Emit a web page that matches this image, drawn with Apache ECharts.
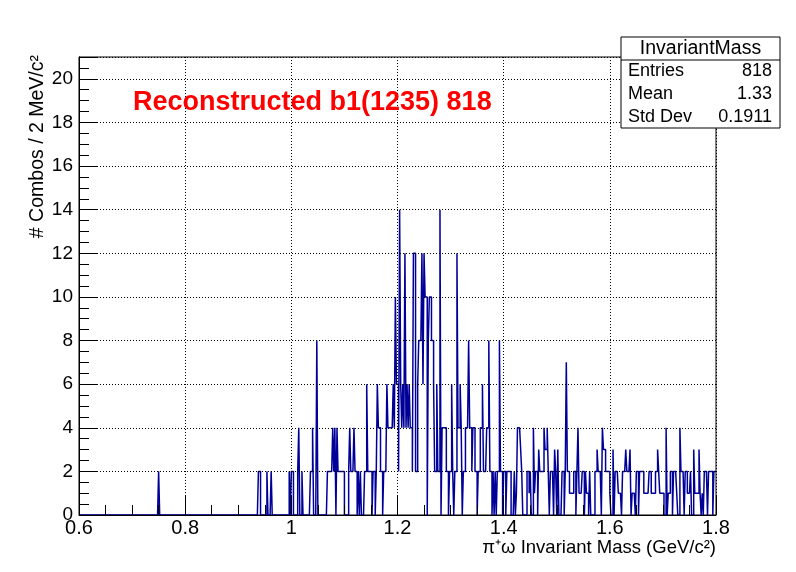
<!DOCTYPE html>
<html lang="en">
<head>
  <meta charset="UTF-8" />
  <script src="https://cdn.jsdelivr.net/npm/echarts@6/dist/echarts.min.js"></script>
  <title>InvariantMass</title>
  <style>
    html, body { margin: 0; padding: 0; background: #fff; }
  </style>
</head>
<body>
  <div id="main" style="width: 796px; height: 572px;"></div>
  <script type="text/javascript">
    // histogram binning: 600 bins of 2 MeV from 0.6 to 1.8 GeV
    var massMin = 0.6;
    var massMax = 1.8;
    var binWidth = 0.002;

    // combos per bin, one row = 50 bins = 0.1 GeV
    var combos = [
      // 0.6 - 0.7
      0,0,0,0,0,0,0,0,0,0, 0,0,0,0,0,0,0,0,0,0, 0,0,0,0,0,0,0,0,0,0, 0,0,0,0,0,0,0,0,0,0, 0,0,0,0,0,0,0,0,0,0,
      // 0.7 - 0.8
      0,0,0,0,0,0,0,0,0,0, 0,0,0,0,0,0,0,0,0,0, 0,0,0,0,0,2,0,0,0,0, 0,0,0,0,0,0,0,0,0,0, 0,0,0,0,0,0,0,0,0,0,
      // 0.8 - 0.9
      0,0,0,0,0,0,0,0,0,0, 0,0,0,0,0,0,0,0,0,0, 0,0,0,0,0,0,0,0,0,0, 0,0,0,0,0,0,0,0,0,0, 0,0,0,0,0,0,0,0,0,0,
      // 0.9 - 1.0
      0,0,0,0,0,0,0,0,0,0, 0,0,0,0,0,0,0,0,0,2, 2,0,0,0,0,0,0,2,0,0, 0,2,0,0,0,0,0,0,0,0, 0,0,0,0,0,0,0,0,2,0,
      // 1.0 - 1.1
      2,2,0,0,0,0,2,4,0,0, 2,0,0,0,0,0,0,0,2,2, 4,0,0,0,8,0,0,0,0,0, 0,0,0,0,2,2,2,2,2,4, 2,4,0,4,2,2,2,2,2,2,
      // 1.1 - 1.2
      0,0,0,0,2,4,2,2,2,4, 2,2,0,2,0,2,0,0,0,2, 2,6,2,2,2,2,0,2,2,0, 2,6,4,4,2,2,0,2,2,2, 6,4,4,4,4,4,6,4,10,6,
      // 1.2 - 1.3
      6,2,14,6,4,6,4,12,4,6, 4,6,4,4,2,12,12,2,2,6, 8,8,8,12,6,12,10,10,0,8, 10,10,8,8,6,2,2,6,2,2, 14,0,4,4,4,4,2,2,0,2,
      // 1.3 - 1.4
      2,6,2,0,2,2,12,4,4,6, 4,0,2,2,4,4,4,8,4,4, 2,4,4,2,2,0,2,2,4,4, 6,2,2,2,4,4,8,2,2,0, 2,0,2,0,2,2,8,2,2,0,
      // 1.4 - 1.5
      2,2,0,2,2,2,2,0,0,0, 2,0,1,4,4,4,3,2,0,0, 0,0,2,2,1,2,0,0,4,1, 2,2,0,3,2,2,2,2,4,3, 3,4,2,0,2,2,2,0,3,2,
      // 1.5 - 1.6
      0,3,0,0,0,2,2,0,2,7, 2,2,1,1,1,1,2,2,0,2, 4,1,1,1,2,2,0,2,1,1, 0,2,0,0,0,0,2,2,3,2, 2,2,0,4,3,3,2,2,2,2,
      // 1.6 - 1.7
      1,0,0,3,0,2,2,2,1,1, 1,0,2,2,2,3,2,2,2,3, 0,1,1,1,0,2,2,0,2,2, 2,2,1,1,1,1,1,2,2,1, 1,1,1,2,2,3,2,1,1,1,
      // 1.7 - 1.8
      1,0,0,4,0,1,1,2,2,0, 2,2,2,1,0,0,4,2,2,2, 0,2,2,1,1,1,2,0,0,3, 1,1,1,1,3,1,0,1,0,2, 2,2,0,2,2,2,2,0,2,2
    ];

    // axis ticks
    var xTickStep = 0.2;
    var yTickStep = 2;
    var yMax = 21;
    var yLabelMax = 20;

    // stats box
    var statsTitle = "InvariantMass";
    var statsNames = ["Entries", "Mean", "Std Dev"];
    var statsValues = ["818", "1.33", "0.1911"];

    var plotTitle = "Reconstructed b1(1235) 818";
    var xTitle = "\u03c0\u207a\u03c9 Invariant Mass (GeV/c\u00b2)";
    var yTitle = "# Combos / 2 MeV/c\u00b2";

    var font = "'Liberation Sans', Arial, Helvetica, sans-serif";

    // step outline points: each bin's lower edge with its content
    var histPoints = combos.map(function (c, i) {
      return [+(massMin + i * binWidth).toFixed(3), c];
    });
    histPoints.push([massMax, combos[combos.length - 1]]);

    var myChart = echarts.init(document.getElementById("main"), null, { renderer: "canvas" });

    var dotted = { color: "#000", width: 1, type: [1, 2] };

    myChart.setOption({
      animation: false,
      backgroundColor: "#fff",
      grid: {
        left: 79,
        right: 80,
        top: 57,
        bottom: 57,
        show: true,
        borderColor: "#000",
        borderWidth: 1,
        backgroundColor: "transparent"
      },
      xAxis: {
        type: "value",
        z: 5,
        min: massMin,
        max: massMax,
        interval: xTickStep,
        axisLine: { show: true, onZero: false, lineStyle: { color: "#000", width: 1 } },
        axisTick: { show: true, inside: true, length: 19, lineStyle: { color: "#000", width: 1 } },
        minorTick: { show: true, splitNumber: 4, length: 10, lineStyle: { color: "#000", width: 1 } },
        axisLabel: {
          color: "#000",
          fontFamily: font,
          fontSize: 20,
          margin: 3,
          formatter: function (v) {
            return String(+v.toFixed(1));
          }
        },
        splitLine: { show: true, lineStyle: dotted }
      },
      yAxis: [
        {
          type: "value",
          z: 5,
          min: 0,
          max: yMax,
          interval: yTickStep,
          axisLine: { show: true, onZero: false, lineStyle: { color: "#000", width: 1 } },
          axisTick: { show: true, inside: true, length: 19, lineStyle: { color: "#000", width: 1 } },
          axisLabel: {
            color: "#000",
            fontFamily: font,
            fontSize: 19,
            margin: 6,
            formatter: function (v) {
              return v > yLabelMax ? "" : String(v);
            }
          },
          splitLine: { show: true, lineStyle: dotted }
        },
        {
          // minor ticks every 0.5
          type: "value",
          z: 5,
          position: "left",
          offset: 0,
          min: 0,
          max: yMax,
          interval: yTickStep / 4,
          axisLine: { show: true, onZero: false, lineStyle: { color: "#000", width: 1 } },
          axisTick: { show: true, inside: true, length: 10, lineStyle: { color: "#000", width: 1 } },
          axisLabel: { show: false },
          splitLine: { show: false }
        }
      ],
      series: [
        {
          type: "line",
          step: "end",
          z: 1,
          yAxisIndex: 0,
          data: histPoints,
          showSymbol: false,
          symbol: "none",
          lineStyle: { color: "#000099", width: 1.5 },
          silent: true,
          clip: true
        }
      ],
      graphic: [
        {
          type: "text",
          z: 50,
          x: 133,
          y: 102.5,
          style: {
            text: plotTitle,
            fill: "#ff0000",
            font: "bold 27px " + font,
            align: "left",
            verticalAlign: "middle"
          }
        },
        {
          type: "text",
          z: 50,
          x: 38,
          y: 55,
          rotation: Math.PI / 2,
          style: {
            text: yTitle,
            fill: "#000",
            font: "19.5px " + font,
            align: "right",
            verticalAlign: "middle"
          }
        },
        {
          type: "text",
          z: 50,
          x: 716,
          y: 548,
          style: {
            text: xTitle,
            fill: "#000",
            font: "18.5px " + font,
            align: "right",
            verticalAlign: "middle"
          }
        },
        {
          type: "group",
          z: 100,
          x: 621,
          y: 37,
          children: [
            {
              type: "rect",
              z: 100,
              shape: { x: 0, y: 0, width: 159, height: 91 },
              style: { fill: "#fff", stroke: "#000", lineWidth: 1 }
            },
            {
              type: "line",
              z: 101,
              shape: { x1: 0, y1: 23, x2: 159, y2: 23 },
              style: { stroke: "#000", lineWidth: 1 }
            },
            {
              type: "text",
              z: 101,
              x: 79.5,
              y: 12,
              style: {
                text: statsTitle,
                fill: "#000",
                font: "19.5px " + font,
                align: "center",
                verticalAlign: "middle"
              }
            }
          ].concat(statsNames.map(function (name, i) {
            return {
              type: "text",
              z: 101,
              x: 7,
              y: 34.5 + i * 23,
              style: { text: name, fill: "#000", font: "18px " + font, align: "left", verticalAlign: "middle" }
            };
          })).concat(statsValues.map(function (val, i) {
            return {
              type: "text",
              z: 101,
              x: 151,
              y: 34.5 + i * 23,
              style: { text: val, fill: "#000", font: "18px " + font, align: "right", verticalAlign: "middle" }
            };
          }))
        }
      ]
    });
  </script>
</body>
</html>
